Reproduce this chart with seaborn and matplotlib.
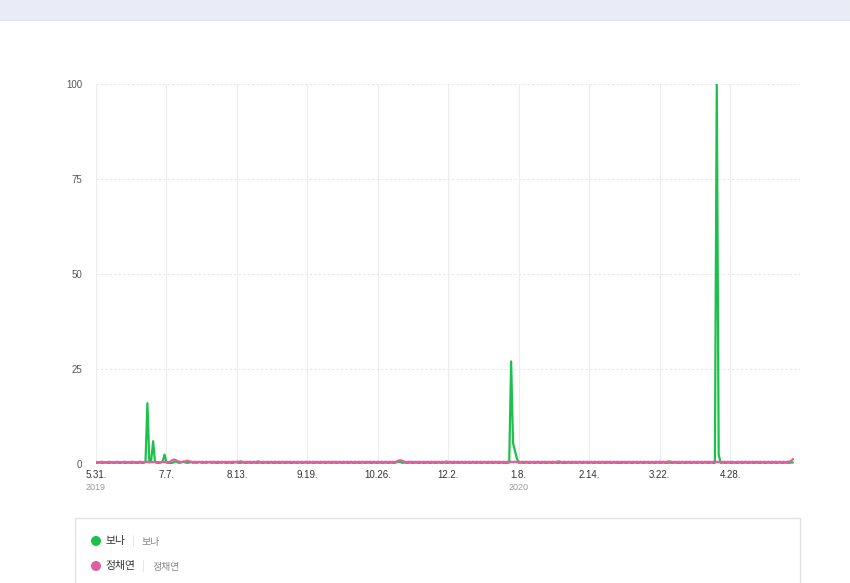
import numpy as np
import pandas as pd
import matplotlib
matplotlib.use("Agg")
import matplotlib.pyplot as plt
import matplotlib.transforms as mtransforms
from matplotlib.patches import Rectangle, Ellipse
import seaborn as sns

# ---------------- data (daily, 2019-05-31 .. 2020-05-31) ----------------
start_date = "2019-05-31"
series_names = ["보나", "정채연"]
series_colors = ["#1cc14a", "#e0609f"]

bona = (
    [0.3] +                                                            # May 31
    [0.3,0.4,0.3,0.3,0.4,0.3,0.3,0.4,0.3,0.3, 0.4,0.3,0.3,0.4,0.3,
     0.3,0.4,0.3,0.3,0.4, 0.3,0.3,0.4,0.3,0.3,0.6,16,0.4,0.9,6] +        # Jun
    [0.5,0.3,0.3,0.4,0.6,2.5,0.4,0.3,0.2,0.3, 0.5,0.7,0.4,0.3,0.5,
     0.6,0.4,0.3,0.4,0.5, 0.3,0.4,0.3,0.5,0.4,0.3,0.4,0.3,0.5,0.4,0.3] +  # Jul
    [0.4,0.3,0.3,0.4,0.3,0.5,0.3,0.3,0.4,0.3, 0.3,0.5,0.4,0.3,0.3,
     0.4,0.3,0.3,0.4,0.3, 0.3,0.4,0.3,0.3,0.4,0.3,0.3,0.4,0.3,0.3,0.4] +  # Aug
    [0.3,0.3,0.4,0.3,0.3,0.4,0.3,0.3,0.4,0.3, 0.3,0.4,0.3,0.3,0.4,
     0.3,0.3,0.4,0.3,0.3, 0.4,0.3,0.3,0.4,0.3,0.3,0.4,0.3,0.3,0.4] +      # Sep
    [0.3,0.3,0.4,0.3,0.3,0.4,0.3,0.3,0.4,0.3, 0.3,0.4,0.3,0.3,0.4,
     0.3,0.3,0.4,0.3,0.3, 0.4,0.3,0.3,0.4,0.3,0.3,0.4,0.3,0.3,0.4,0.3] +  # Oct
    [0.3,0.4,0.3,0.3,0.5,0.6,0.5,0.3,0.4,0.3, 0.3,0.4,0.3,0.3,0.4,
     0.3,0.3,0.4,0.3,0.3, 0.4,0.3,0.3,0.4,0.3,0.3,0.4,0.3,0.3,0.4] +      # Nov
    [0.3,0.3,0.4,0.3,0.3,0.4,0.3,0.3,0.4,0.3, 0.3,0.4,0.3,0.3,0.4,
     0.3,0.3,0.4,0.3,0.3, 0.4,0.3,0.3,0.4,0.3,0.3,0.4,0.3,0.3,0.4,0.3] +  # Dec
    [0.3,0.3,0.4,27,5.5,3.5,1.5,0.3,0.4,0.3, 0.3,0.4,0.3,0.3,0.4,
     0.3,0.3,0.4,0.3,0.3, 0.4,0.3,0.3,0.4,0.3,0.3,0.4,0.3,0.3,0.4,0.3] +  # Jan
    [0.3,0.3,0.4,0.3,0.3,0.4,0.3,0.3,0.4,0.3, 0.3,0.4,0.3,0.3,0.4,
     0.3,0.3,0.4,0.3,0.3, 0.4,0.3,0.3,0.4,0.3,0.3,0.4,0.3,0.3] +          # Feb
    [0.3,0.3,0.4,0.3,0.3,0.4,0.3,0.3,0.4,0.3, 0.3,0.4,0.3,0.3,0.4,
     0.3,0.3,0.4,0.3,0.3, 0.4,0.3,0.3,0.4,0.3,0.3,0.4,0.3,0.3,0.4,0.3] +  # Mar
    [0.3,0.3,0.4,0.3,0.3,0.4,0.3,0.3,0.4,0.3, 0.3,0.4,0.3,0.3,0.4,
     0.3,0.3,0.4,0.3,0.3, 100,2.5,0.3,0.4,0.3,0.3,0.4,0.3,0.3,0.4] +      # Apr
    [0.3,0.3,0.4,0.3,0.3,0.4,0.3,0.3,0.4,0.3, 0.3,0.4,0.3,0.3,0.4,
     0.3,0.3,0.4,0.3,0.3, 0.4,0.3,0.3,0.4,0.3,0.3,0.4,0.3,0.3,0.4,0.4]    # May
)

jungchaeyeon = (
    [0.5] +
    [0.5,0.5,0.6,0.5,0.5,0.5,0.6,0.5,0.5,0.5, 0.6,0.5,0.5,0.5,0.6,
     0.5,0.5,0.5,0.6,0.5, 0.5,0.5,0.6,0.5,0.5,0.5,0.6,0.5,0.5,0.5] +      # Jun
    [0.6,0.5,0.5,0.5,0.6,0.5,0.5,0.5,0.6,1.0, 1.2,1.0,0.7,0.6,0.5,
     0.6,0.7,0.9,0.7,0.6, 0.5,0.6,0.5,0.6,0.5,0.6,0.5,0.6,0.5,0.6,0.5] +  # Jul
    [0.6,0.5,0.6,0.5,0.6,0.5,0.6,0.5,0.6,0.5, 0.6,0.5,0.6,0.6,0.7,
     0.6,0.5,0.6,0.5,0.6, 0.5,0.6,0.5,0.7,0.6,0.5,0.6,0.5,0.6,0.5,0.6] +  # Aug
    [0.5,0.6,0.5,0.6,0.5,0.6,0.5,0.6,0.5,0.6, 0.5,0.6,0.5,0.6,0.5,
     0.6,0.5,0.6,0.5,0.6, 0.5,0.6,0.5,0.6,0.5,0.6,0.5,0.6,0.5,0.6] +      # Sep
    [0.5,0.6,0.5,0.6,0.5,0.6,0.5,0.6,0.5,0.6, 0.5,0.6,0.5,0.6,0.5,
     0.6,0.5,0.6,0.5,0.6, 0.5,0.6,0.5,0.6,0.5,0.6,0.5,0.6,0.5,0.6,0.5] +  # Oct
    [0.6,0.5,0.6,0.5,0.7,0.9,1.0,0.8,0.6,0.5, 0.6,0.5,0.6,0.5,0.6,
     0.5,0.6,0.5,0.6,0.5, 0.6,0.5,0.6,0.5,0.6,0.5,0.6,0.5,0.6,0.5] +      # Nov
    [0.7,0.5,0.6,0.5,0.6,0.5,0.6,0.5,0.6,0.5, 0.6,0.5,0.6,0.5,0.6,
     0.5,0.6,0.5,0.6,0.5, 0.6,0.5,0.6,0.5,0.6,0.5,0.6,0.5,0.6,0.5,0.6] +  # Dec
    [0.5,0.6,0.5,0.6,0.5,0.6,0.5,0.6,0.5,0.6, 0.5,0.6,0.5,0.6,0.5,
     0.6,0.5,0.6,0.5,0.6, 0.5,0.6,0.5,0.6,0.5,0.6,0.5,0.6,0.7,0.6,0.5] +  # Jan
    [0.6,0.5,0.6,0.5,0.6,0.5,0.6,0.5,0.6,0.5, 0.6,0.5,0.6,0.5,0.6,
     0.5,0.6,0.5,0.6,0.5, 0.6,0.5,0.6,0.5,0.6,0.5,0.6,0.5,0.6] +          # Feb
    [0.5,0.6,0.5,0.6,0.5,0.6,0.5,0.6,0.5,0.6, 0.5,0.6,0.5,0.6,0.5,
     0.6,0.5,0.6,0.5,0.6, 0.5,0.6,0.5,0.6,0.5,0.6,0.7,0.6,0.5,0.6,0.5] +  # Mar
    [0.6,0.5,0.6,0.5,0.6,0.5,0.6,0.5,0.6,0.5, 0.6,0.5,0.6,0.5,0.6,
     0.5,0.6,0.5,0.6,0.5, 0.6,0.5,0.6,0.5,0.6,0.5,0.6,0.5,0.6,0.5] +      # Apr
    [0.5,0.6,0.5,0.6,0.5,0.6,0.5,0.6,0.5,0.6, 0.5,0.6,0.5,0.6,0.5,
     0.6,0.5,0.6,0.5,0.6, 0.5,0.6,0.5,0.6,0.5,0.6,0.5,0.6,0.6,0.8,1.3]    # May
)

tick_dates = ["2019-05-31", "2019-07-07", "2019-08-13", "2019-09-19", "2019-10-26",
              "2019-12-02", "2020-01-08", "2020-02-14", "2020-03-22", "2020-04-28"]
tick_labels = ["5.31.", "7.7.", "8.13.", "9.19.", "10.26.",
               "12.2.", "1.8.", "2.14.", "3.22.", "4.28."]
year_labels = {"2019-05-31": "2019", "2020-01-08": "2020"}
y_ticks = [0, 25, 50, 75, 100]

# ---------------- build frame ----------------
df = pd.concat([
    pd.DataFrame({"date": pd.date_range(start_date, periods=len(bona), freq="D"),
                  "value": bona, "name": series_names[0]}),
    pd.DataFrame({"date": pd.date_range(start_date, periods=len(jungchaeyeon), freq="D"),
                  "value": jungchaeyeon, "name": series_names[1]}),
])

sns.set_theme(style="white")
plt.rcParams["font.family"] = ["Noto Sans CJK KR", "DejaVu Sans"]
num_font = ["Liberation Sans Narrow", "Liberation Sans", "DejaVu Sans"]

W, H = 850, 583
fig = plt.figure(figsize=(W / 100, H / 100), dpi=100)
fig.patch.set_facecolor("white")

def fx(px):
    return px / W

def fy(py):
    return 1 - py / H

# top band
fig.patches.append(Rectangle((0, fy(20)), 1, 20 / H, transform=fig.transFigure,
                             facecolor="#e9ebf5", edgecolor="none", zorder=0))
fig.patches.append(Rectangle((0, fy(21)), 1, 1.2 / H, transform=fig.transFigure,
                             facecolor="#dfe1ec", edgecolor="none", zorder=0))

ax = fig.add_axes([fx(96), fy(464), (800 - 96) / W, (464 - 84) / H])
ax.set_facecolor("white")

sns.lineplot(data=df, x="date", y="value", hue="name", hue_order=series_names,
             palette=series_colors, linewidth=1.6, ax=ax, legend=False)

x0 = pd.Timestamp(start_date)
ax.set_xlim(x0, x0 + pd.Timedelta(days=369.7))
ax.set_ylim(0, 100)

for s in ax.spines.values():
    s.set_visible(False)

# grid
for yv in y_ticks[1:]:
    ax.axhline(yv, color="#e6e6e6", lw=0.8, ls=(0, (2, 2)), zorder=0)
ax.axhline(0, color="#cfcfcf", lw=1.0, zorder=0.5)
for d in tick_dates:
    ax.axvline(pd.Timestamp(d), color="#ececec", lw=0.8, zorder=0)

ax.set_xticks([pd.Timestamp(d) for d in tick_dates])
ax.set_xticklabels(tick_labels, fontsize=7, color="#333333", family=num_font)
ax.set_yticks(y_ticks)
ax.set_yticklabels([str(v) for v in y_ticks], fontsize=7, color="#555555", family=num_font)
ax.tick_params(axis="x", length=0, pad=4)
ax.tick_params(axis="y", length=0, pad=10)
ax.set_xlabel("")
ax.set_ylabel("")
ax.grid(False)

blend = mtransforms.blended_transform_factory(ax.transData, fig.transFigure)
for d, yl in year_labels.items():
    ax.text(pd.Timestamp(d), fy(487), yl, transform=blend,
            ha="center", va="center", fontsize=6.5, color="#9a9a9a", family=num_font)

# legend box
fig.patches.append(Rectangle((fx(75), fy(590)), (800 - 75) / W, (590 - 518) / H,
                             transform=fig.transFigure, facecolor="white",
                             edgecolor="#e3e3e3", lw=1.0, zorder=1))
rows = [(541, series_names[0], series_colors[0]), (566, series_names[1], series_colors[1])]
for py, name, col in rows:
    fig.patches.append(Ellipse((fx(96), fy(py)), 10 / W, 10 / H, transform=fig.transFigure,
                               facecolor=col, edgecolor="none", zorder=2))
    t = fig.text(fx(105), fy(py), name, ha="left", va="center", fontsize=7.8,
                 color="#333333", zorder=3)
    fig.canvas.draw()
    bb = t.get_window_extent()
    sep_x = bb.x1 + 8
    fig.text(sep_x / W, fy(py), "|", ha="center", va="center", fontsize=7,
             color="#dddddd", zorder=3)
    fig.text((sep_x + 9) / W, fy(py + 1), name, ha="left", va="center", fontsize=7.2,
             color="#888888", zorder=3)

fig.savefig("out.png", dpi=100, facecolor="white")
